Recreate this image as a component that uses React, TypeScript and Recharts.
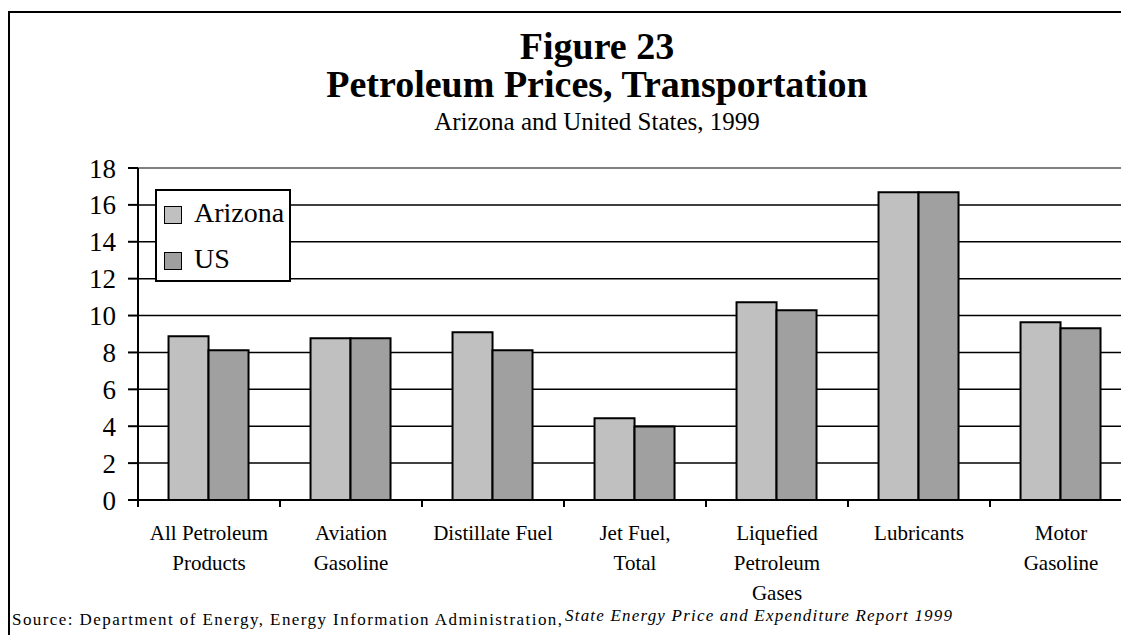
import React from "react";
import {
  BarChart,
  Bar,
  XAxis,
  YAxis,
  CartesianGrid,
  ReferenceLine,
  Legend,
} from "recharts";

const categories = [
  ["All Petroleum", "Products"],
  ["Aviation", "Gasoline"],
  ["Distillate Fuel"],
  ["Jet Fuel,", "Total"],
  ["Liquefied", "Petroleum", "Gases"],
  ["Lubricants"],
  ["Motor", "Gasoline"],
];
const arizona = [8.88, 8.77, 9.09, 4.43, 10.72, 16.69, 9.64];
const us = [8.12, 8.77, 8.12, 3.98, 10.29, 16.69, 9.31];
const yTicks = [0, 2, 4, 6, 8, 10, 12, 14, 16, 18];
const gridValues = [2, 4, 6, 8, 10, 12, 14, 16];

const data = categories.map((lines, i) => ({
  name: lines.join(" "),
  lines,
  Arizona: arizona[i],
  US: us[i],
}));

const FONT = "'Liberation Serif', 'Times New Roman', serif";
const CHART_W = 1140;
const CHART_H = 627;
const MARGIN = { top: 160, right: 16, left: 0, bottom: 0 };
const Y_W = 130;
const BAND = (CHART_W - MARGIN.left - MARGIN.right - Y_W) / categories.length;

const CategoryTick = (props: any) => {
  const { x, y, payload, index } = props;
  const lines: string[] = data[index]?.lines ?? [String(payload.value)];
  return (
    <g>
      <line x1={x - BAND / 2} x2={x - BAND / 2} y1={y} y2={y + 7} stroke="#000" strokeWidth={2} />
      {index === categories.length - 1 && (
        <line x1={x + BAND / 2} x2={x + BAND / 2} y1={y} y2={y + 7} stroke="#000" strokeWidth={2} />
      )}
      <text textAnchor="middle" fontFamily={FONT} fontSize={21} fill="#000">
        {lines.map((l, i) => (
          <tspan key={i} x={x} y={y + 40 + i * 30}>
            {l}
          </tspan>
        ))}
      </text>
    </g>
  );
};

const LegendBox = () => (
  <div
    style={{
      position: "relative",
      width: 132,
      height: 89,
      border: "2px solid #000",
      background: "#fff",
      fontFamily: FONT,
      fontSize: 28,
      color: "#000",
    }}
  >
    {[
      { label: "Arizona", color: "#c0c0c0", top: 15 },
      { label: "US", color: "#a0a0a0", top: 61 },
    ].map((it) => (
      <div key={it.label}>
        <div
          style={{
            position: "absolute",
            left: 7,
            top: it.top,
            width: 16,
            height: 16,
            border: "1.5px solid #000",
            background: it.color,
          }}
        />
        <div
          style={{
            position: "absolute",
            left: 37,
            top: it.top - 8,
            lineHeight: "30px",
            whiteSpace: "nowrap",
          }}
        >
          {it.label}
        </div>
      </div>
    ))}
  </div>
);

export default function App() {
  return (
    <div
      style={{
        position: "relative",
        width: 1121,
        height: 627,
        overflow: "hidden",
        background: "#fff",
      }}
    >
      <div
        style={{
          position: "absolute",
          left: 0,
          top: 3,
          width: 1300,
          height: 800,
          border: "2px solid #000",
        }}
      />
      <div style={{ position: "absolute", left: 0, top: 0 }}>
        <BarChart
          width={CHART_W}
          height={CHART_H}
          data={data}
          margin={MARGIN}
          barCategoryGap="21.5%"
          barGap={0}
        >
          <CartesianGrid
            vertical={false}
            horizontalValues={gridValues}
            stroke="#000"
            strokeWidth={1.5}
          />
          <ReferenceLine y={18} stroke="#808080" strokeWidth={2} />
          <XAxis
            dataKey="name"
            height={135}
            interval={0}
            tickSize={0}
            tickMargin={0}
            tickLine={false}
            axisLine={{ stroke: "#000", strokeWidth: 2 }}
            tick={<CategoryTick />}
          />
          <YAxis
            width={Y_W}
            domain={[0, 18]}
            ticks={yTicks}
            interval={0}
            tickSize={10}
            tickMargin={12}
            axisLine={{ stroke: "#000", strokeWidth: 2 }}
            tickLine={{ stroke: "#000", strokeWidth: 2 }}
            tick={{ fontFamily: FONT, fontSize: 27, fill: "#000" }}
          />
          <Legend
            layout="vertical"
            align="center"
            verticalAlign="middle"
            content={<LegendBox />}
            wrapperStyle={{ position: "absolute", left: 147, top: 181, width: "auto" }}
          />
          <Bar
            dataKey="Arizona"
            fill="#c0c0c0"
            stroke="#000"
            strokeWidth={2}
            isAnimationActive={false}
          />
          <Bar
            dataKey="US"
            fill="#a0a0a0"
            stroke="#000"
            strokeWidth={2}
            isAnimationActive={false}
          />
        </BarChart>
      </div>
      <svg
        width={1121}
        height={627}
        style={{ position: "absolute", left: 0, top: 0, pointerEvents: "none" }}
      >
        <g fontFamily={FONT} fill="#000" textAnchor="middle">
          <text x={589} y={51} fontSize={38} fontWeight="bold">
            Figure 23
          </text>
          <text x={589} y={89} fontSize={38} fontWeight="bold">
            Petroleum Prices, Transportation
          </text>
          <text x={589} y={122} fontSize={25}>
            Arizona and United States, 1999
          </text>
        </g>
        <g fontFamily={FONT} fill="#000" fontSize={17}>
          <text x={4} y={617} textLength={550} lengthAdjust="spacing">
            Source:  Department of Energy, Energy Information Administration,
          </text>
          <text x={557} y={613} fontStyle="italic" textLength={387} lengthAdjust="spacing">
            State Energy Price and Expenditure Report 1999
          </text>
        </g>
      </svg>
    </div>
  );
}
